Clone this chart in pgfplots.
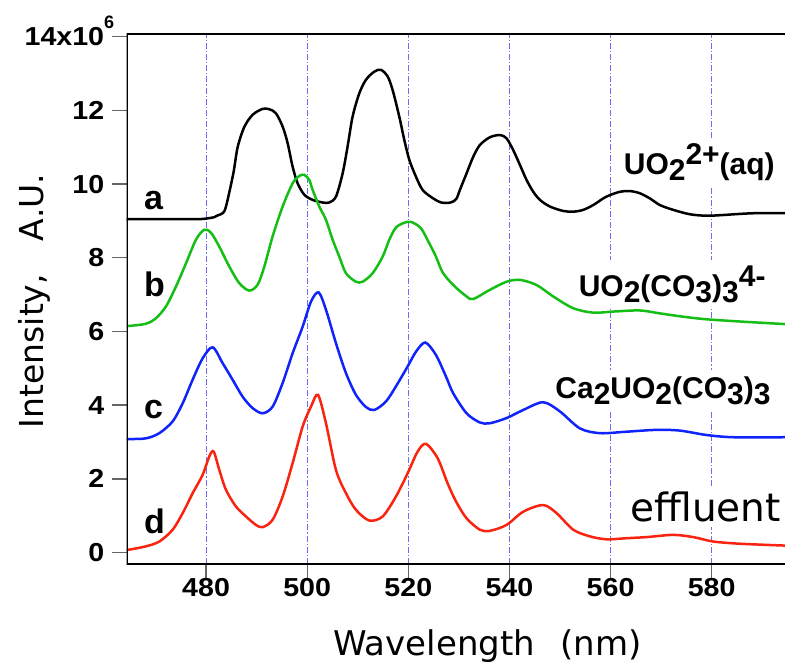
\documentclass[border=0pt]{standalone}
\usepackage{fontspec}
\setmainfont{Liberation Sans}
\newfontfamily\dejavu{DejaVu Sans}
\usepackage{graphicx}
\usepackage{pgfplots}
\pgfplotsset{compat=1.18}
\definecolor{cA}{RGB}{0,0,0}
\definecolor{cB}{RGB}{20,190,20}
\definecolor{cC}{RGB}{15,35,250}
\definecolor{cD}{RGB}{250,35,15}
\definecolor{gridc}{RGB}{110,110,245}
\newcommand{\sx}[1]{\scalebox{1.1}[1]{#1}}
\newcommand{\sbs}[1]{\raisebox{-6pt}{#1}}
\newcommand{\spr}[1]{\raisebox{10pt}{#1}}
\begin{document}
\begin{tikzpicture}
\begin{axis}[
  name=ax,
  scale only axis,
  width=658.3pt, height=530.3pt,
  xmin=464.3, xmax=594.5,
  ymin=-0.31, ymax=14.08,
  axis line style={draw=none},
  xtick={480,500,520,540,560,580},
  xticklabels={\sx{480},\sx{500},\sx{520},\sx{540},\sx{560},\sx{580}},
  ytick={0,2,4,6,8,10,12,14},
  yticklabels={\sx{0},\sx{2},\sx{4},\sx{6},\sx{8},\sx{10},\sx{12},{\sx{14x10}\smash{\raisebox{17pt}{\fontsize{18}{18}\selectfont\bfseries 6}}\kern-10pt}},
  xtick pos=bottom, ytick pos=left,
  tick align=outside,
  major tick length=15pt,
  tick style={line width=1.4pt, color=black!60},
  ticklabel style={font=\fontsize{26}{26}\selectfont\bfseries},
  yticklabel style={xshift=-4pt},
  xticklabel style={yshift=4pt},
  xmajorgrids,
  major x grid style={color=gridc, line width=0.9pt, dash pattern=on 6pt off 2pt on 1.2pt off 2pt},
  xlabel={\dejavu\fontsize{34}{34}\selectfont Wavelength\hspace{0.75em}(nm)},
  xlabel style={at={(axis description cs:0.7828,-0.1716)}, anchor=base east, inner sep=0pt},
  ylabel={\dejavu\fontsize{33}{33}\selectfont Intensity,\quad A.U.},
  ylabel style={at={(axis description cs:-0.1271,0.4959)}, anchor=base, inner sep=0pt},
]
% species labels (white boxes interrupt the grid lines)
\node[anchor=base west, fill=white, inner xsep=2pt, inner ysep=6pt, font=\fontsize{30}{30}\selectfont\bfseries] at (axis cs:562.19,10.25) {UO\sbs{2}\spr{2+}(aq)};
\node[anchor=base west, fill=white, inner xsep=2pt, inner ysep=6pt, font=\fontsize{30}{30}\selectfont\bfseries] at (axis cs:553.28,6.95) {UO\sbs{2}(CO\sbs{3})\sbs{3}\spr{4-}};
\node[anchor=base west, fill=white, inner xsep=2pt, inner ysep=6pt, font=\fontsize{30}{30}\selectfont\bfseries] at (axis cs:548.66,4.19) {Ca\sbs{2}UO\sbs{2}(CO\sbs{3})\sbs{3}};
\node[anchor=base west, fill=white, inner xsep=2pt, inner ysep=5pt, font=\dejavu\fontsize{39}{39}\selectfont] at (axis cs:563.49,0.84) {effluent};

% a: UO2 2+(aq)
\addplot[cA, line width=2.5pt, smooth, tension=0.5] coordinates {
(464.3,9.05)(470,9.05)(475,9.05)(479,9.05)(481.6,9.10)(482.3,9.15)(483.28,9.21)(483.94,9.39)(485.39,10.29)(486.24,11.0)(487.56,11.55)(489.21,11.88)(491.19,12.04)(492.51,12.03)(493.82,11.92)(495.14,11.56)(496.13,11.11)(497.12,10.47)(498.11,10.02)(499.43,9.71)(501.08,9.57)(503.05,9.50)(504.37,9.50)(505.69,9.66)(507.01,10.29)(507.99,11.02)(508.98,11.83)(510.3,12.46)(511.62,12.83)(513.27,13.05)(514.59,13.10)(515.91,12.92)(516.9,12.55)(518.21,11.83)(519.2,11.2)(520.19,10.66)(521.51,10.2)(522.83,9.84)(524.81,9.62)(526.5,9.5)(528.4,9.5)(529.5,9.6)(530.2,9.84)(531.52,10.29)(532.84,10.74)(534.16,11.06)(536.14,11.27)(538.12,11.33)(539.43,11.24)(540.75,10.92)(542.07,10.52)(543.39,10.11)(544.71,9.79)(546.03,9.57)(548.0,9.39)(550.64,9.27)(552.62,9.25)(554.6,9.3)(556.57,9.43)(558.55,9.61)(559.87,9.70)(561.85,9.79)(563.82,9.81)(565.8,9.75)(567.78,9.61)(569.76,9.43)(572.39,9.30)(575.69,9.18)(578.99,9.14)(582.28,9.16)(585.58,9.19)(588.87,9.21)(594.5,9.21)
};
% b: UO2(CO3)3 4-
\addplot[cB, line width=2.5pt, smooth, tension=0.5] coordinates {
(464.3,6.15)(464.82,6.15)(468.12,6.21)(470.09,6.36)(472.07,6.68)(474.05,7.22)(476.03,7.85)(478.0,8.49)(479.65,8.76)(480.97,8.68)(482.62,8.30)(484.6,7.76)(486.57,7.31)(488.55,7.11)(490.2,7.27)(491.52,7.76)(493.16,8.58)(495.14,9.39)(497.12,10.02)(498.44,10.22)(499.43,10.25)(500.42,10.11)(501.08,9.84)(502.39,9.39)(503.71,9.03)(505.03,8.49)(506.35,8.03)(507.67,7.58)(509.64,7.35)(510.96,7.35)(512.94,7.58)(514.92,8.03)(516.24,8.49)(517.55,8.82)(519.2,8.95)(520.6,8.97)(522.5,8.80)(524.15,8.39)(525.47,8.03)(526.8,7.6)(528.89,7.26)(531.52,6.95)(532.84,6.88)(536.14,7.13)(539.43,7.35)(542.07,7.40)(545.37,7.26)(548.66,6.95)(552.62,6.63)(556.57,6.51)(560.53,6.54)(565.8,6.57)(569.76,6.49)(574.37,6.40)(578.99,6.33)(585.58,6.27)(594.5,6.20)
};
% c: Ca2UO2(CO3)3
\addplot[cC, line width=2.5pt, smooth, tension=0.5] coordinates {
(464.3,3.08)(464.82,3.08)(468.12,3.10)(470.75,3.24)(473.39,3.56)(475.37,4.05)(477.34,4.69)(479.32,5.27)(481.3,5.57)(483.28,5.14)(485.25,4.69)(487.23,4.23)(489.21,3.92)(491.19,3.78)(493.16,3.96)(495.14,4.60)(497.12,5.41)(499.1,6.13)(500.75,6.81)(502.26,7.06)(503.71,6.59)(505.69,5.68)(507.67,4.87)(509.64,4.28)(511.62,3.95)(513.27,3.87)(515.58,4.10)(517.55,4.51)(519.86,5.05)(521.51,5.45)(523.36,5.70)(525.47,5.36)(527.44,4.78)(528.89,4.32)(531.52,3.78)(534.16,3.53)(536.14,3.51)(539.43,3.65)(542.73,3.87)(546.68,4.08)(549.98,3.83)(553.94,3.37)(557.89,3.24)(563.16,3.28)(569.1,3.33)(573.71,3.31)(578.99,3.19)(584.26,3.13)(594.5,3.13)
};
% d: effluent
\addplot[cD, line width=2.5pt, smooth, tension=0.5] coordinates {
(464.3,0.08)(464.82,0.08)(468.12,0.17)(470.75,0.30)(473.39,0.62)(475.37,1.07)(477.34,1.61)(479.32,2.11)(480.64,2.61)(481.5,2.74)(482.62,2.24)(483.94,1.70)(485.91,1.25)(487.89,0.98)(489.87,0.75)(491.19,0.69)(493.16,0.89)(495.14,1.52)(497.12,2.43)(499.1,3.42)(500.75,3.96)(502.13,4.28)(503.71,3.51)(505.69,2.24)(507.67,1.61)(509.64,1.16)(512.28,0.87)(514.92,0.98)(517.55,1.52)(519.86,2.15)(521.84,2.74)(523.49,2.95)(525.8,2.56)(527.77,1.88)(529.42,1.39)(531.52,0.93)(534.16,0.62)(536.14,0.59)(539.43,0.75)(542.73,1.11)(546.68,1.29)(549.32,1.07)(552.62,0.62)(555.91,0.44)(559.21,0.36)(563.16,0.39)(567.12,0.42)(572.39,0.48)(576.35,0.42)(580.3,0.30)(585.58,0.24)(594.5,0.19)
};

% curve letters
\node[anchor=base west, inner sep=0pt, font=\fontsize{34}{34}\selectfont\bfseries] at (axis cs:467.72,9.30) {a};
\node[anchor=base west, inner sep=0pt, font=\fontsize{34}{34}\selectfont\bfseries] at (axis cs:467.72,6.95) {b};
\node[anchor=base west, inner sep=0pt, font=\fontsize{34}{34}\selectfont\bfseries] at (axis cs:467.72,3.65) {c};
\node[anchor=base west, inner sep=0pt, font=\fontsize{34}{34}\selectfont\bfseries] at (axis cs:467.72,0.53) {d};

% axis frame: left, top, bottom
\draw[black, line width=2pt, line cap=rect] (rel axis cs:1,1) -- (rel axis cs:0,1) -- (rel axis cs:0,0) -- (rel axis cs:1,0);
\end{axis}
\pgfresetboundingbox
\path[use as bounding box] ([shift={(-126.7pt,-98pt)}]ax.south west) rectangle ([shift={(0pt,33.7pt)}]ax.north east);
\end{tikzpicture}
\end{document}
